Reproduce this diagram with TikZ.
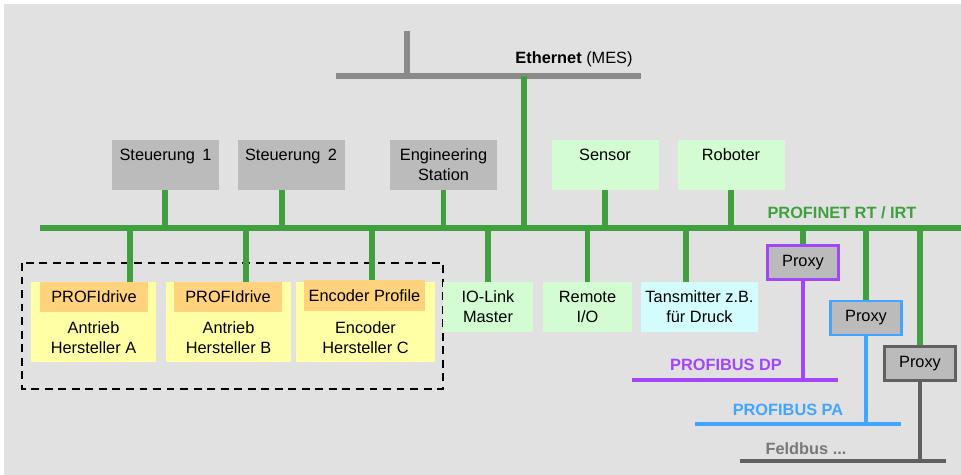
\documentclass[tikz,border=0pt]{standalone}
\usepackage{fontspec}
\setmainfont{Liberation Sans}
\definecolor{bgGray}{HTML}{E1E1E1}
\definecolor{boxGray}{HTML}{BBBBBB}
\definecolor{ethGray}{HTML}{8A8A8A}
\definecolor{pnGreen}{HTML}{40A040}
\definecolor{devGreen}{HTML}{D3FCD3}
\definecolor{devCyan}{HTML}{D3FCFC}
\definecolor{drvYellow}{HTML}{FFFFA5}
\definecolor{profOrange}{HTML}{FFD27D}
\definecolor{dpPurple}{HTML}{A346FA}
\definecolor{paBlue}{HTML}{42A5FF}
\definecolor{fbGray}{HTML}{606060}
\begin{document}
\begin{tikzpicture}[
  x = 0.02cm, y = -0.02cm,
  every node/.style={font=\fontsize{9.3}{11.3}\selectfont, align=center, inner sep=0pt},
  ctrl/.style={fill=boxGray, minimum width=107*\px, minimum height=50*\px},
  field/.style={fill=devGreen, minimum height=50*\px},
  drive/.style={fill=drvYellow, minimum height=80*\px},
  profile/.style={fill=profOrange, minimum height=30*\px},
  proxy/.style={fill=boxGray, draw=#1, line width=1.7pt, minimum width=71*\px, minimum height=34*\px},
  pn/.style={pnGreen, line width=3.4pt},
  eth/.style={ethGray, line width=3.2pt},
  fbus/.style={#1, line width=2.3pt},
  buslabel/.style={font=\fontsize{9.3}{11.3}\selectfont\bfseries, text=#1}
]
%general params
\def\px{0.02cm}

%background
\useasboundingbox (0,0) rectangle (961,475);
\fill[bgGray] (4,4) rectangle (961,475);

%ethernet
\coordinate (ethL) at (336,76);
\coordinate (ethR) at (641,76);
\coordinate (ethTop) at (407,31);
\coordinate (ethDown) at (524,76);
\draw[eth] (ethL) -- (ethR);
\draw[eth] (ethTop) -- (ethTop |- ethL);
\node (ethLbl) at (574,59) {\textbf{Ethernet} (MES)};

%profinet bus
\coordinate (pnL) at (40,228);
\coordinate (pnR) at (961,228);
\draw[pn] (pnL) -- (pnR);
\draw[pn] (ethDown) -- (ethDown |- pnL);
\node[buslabel=pnGreen] (pnLbl) at (842,213) {PROFINET RT / IRT};

%upper devices
\node[ctrl] (st1) at (165.5,165) {Steuerung\hspace{0.45em}1\\\mbox{}};
\node[ctrl] (st2) at (291,165) {Steuerung\hspace{0.45em}2\\\mbox{}};
\node[ctrl] (eng) at (443.5,165) {Engineering\\Station};
\node[ctrl, fill=devGreen] (sensor) at (605,165) {Sensor\\\mbox{}};
\node[ctrl, fill=devGreen] (robot) at (731,165) {Roboter\\\mbox{}};
\draw[pn] (st1.south -| 165,0) -- (pnL -| 165,0);
\draw[pn] (st2.south -| 282,0) -- (pnL -| 282,0);
\draw[pn] (eng.south) -- (eng.south |- pnL);
\draw[pn] (sensor.south) -- (sensor.south |- pnL);
\draw[pn] (robot.south) -- (robot.south |- pnL);

%drives
\draw[black, line width=1.3pt, dash pattern=on 4.5pt off 3.2pt] (22,263) rectangle (443,389);
\node[drive, minimum width=125*\px] (drvA) at (93.5,322) {};
\node[drive, minimum width=125*\px] (drvB) at (228.5,322) {};
\node[drive, minimum width=139*\px] (drvC) at (365.5,322) {};
\node[profile, minimum width=108*\px] (hdA) at (94,297) {PROFIdrive};
\node[profile, minimum width=108*\px] (hdB) at (228,297) {PROFIdrive};
\node[profile, minimum width=121*\px, minimum height=31*\px] (hdC) at (364.5,295.5) {Encoder Profile};
\node (txtA) at (93.5,337.5) {Antrieb\\Hersteller A};
\node (txtB) at (228.5,337.5) {Antrieb\\Hersteller B};
\node (txtC) at (365.5,337.5) {Encoder\\Hersteller C};
\draw[pn] (hdA.north -| 130,0) -- (pnL -| 130,0);
\draw[pn] (hdB.north -| 246,0) -- (pnL -| 246,0);
\draw[pn] (hdC.north -| 372,0) -- (pnL -| 372,0);

%lower devices
\node[field, minimum width=90*\px] (iol) at (488,307) {IO-Link\\Master};
\node[field, minimum width=89*\px] (rio) at (587.5,307) {Remote\\I/O};
\node[field, fill=devCyan, minimum width=117*\px] (trans) at (699.5,307) {Tansmitter z.B.\\für Druck};
\draw[pn] (iol.north) -- (iol.north |- pnL);
\draw[pn] (rio.north) -- (rio.north |- pnL);
\draw[pn] (trans.north -| 686,0) -- (pnL -| 686,0);

%proxies
\node[proxy=dpPurple] (pxDP) at (803,263) {Proxy};
\node[proxy=paBlue] (pxPA) at (866,318) {Proxy};
\node[proxy=fbGray] (pxFB) at (920,363.5) {Proxy};
\draw[pn] (pxDP.north) -- (pxDP.north |- pnL);
\draw[pn] (pxPA.north) -- (pxPA.north |- pnL);
\draw[pn] (pxFB.north) -- (pxFB.north |- pnL);

%field buses
\coordinate (dpL) at (632,380);
\coordinate (dpR) at (838,380);
\coordinate (paL) at (695,424);
\coordinate (paR) at (901,424);
\coordinate (fbL) at (740,461);
\coordinate (fbR) at (946,461);
\draw[fbus=dpPurple] (dpL) -- (dpR);
\draw[fbus=dpPurple] (pxDP.south) -- (pxDP.south |- dpL);
\draw[fbus=paBlue] (paL) -- (paR);
\draw[fbus=paBlue] (pxPA.south) -- (pxPA.south |- paL);
\draw[fbus=fbGray] (fbL) -- (fbR);
\draw[fbus=fbGray] (pxFB.south) -- (pxFB.south |- fbL);
\node[buslabel=dpPurple] (dpLbl) at (726,365) {PROFIBUS DP};
\node[buslabel=paBlue] (paLbl) at (788,410) {PROFIBUS PA};
\node[buslabel=fbGray!85] (fbLbl) at (806,449) {Feldbus ...};

\end{tikzpicture}
\end{document}
